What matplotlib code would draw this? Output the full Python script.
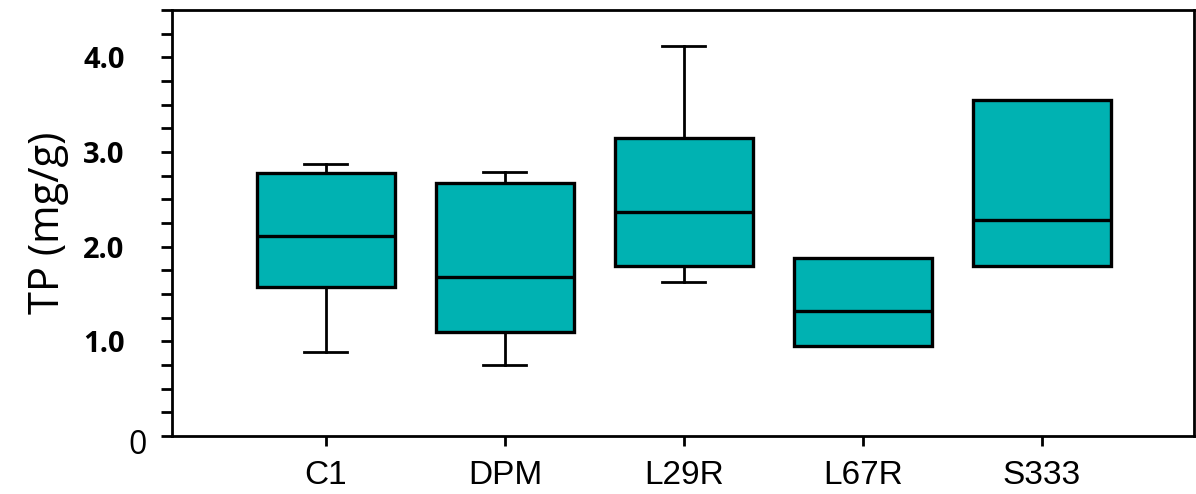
import matplotlib
matplotlib.use("Agg")
import matplotlib.pyplot as plt
import matplotlib.transforms as mtransforms
from matplotlib.ticker import MultipleLocator

# values (TP, mg/g)
groups = ["C1", "DPM", "L29R", "L67R", "S333"]
whisker_low = [0.89, 0.75, 1.63, 0.95, 1.80]
q1 = [1.57, 1.10, 1.80, 0.95, 1.80]
median = [2.11, 1.68, 2.37, 1.32, 2.28]
q3 = [2.78, 2.67, 3.15, 1.88, 3.55]
whisker_high = [2.87, 2.79, 4.12, 1.88, 3.55]

ytick_vals = [0, 1.0, 2.0, 3.0, 4.0]
ytick_labels = ["0", "1.0", "2.0", "3.0", "4.0"]

box_color = "#00B2B2"

stats = []
for i, name in enumerate(groups):
    stats.append({
        "label": name,
        "whislo": whisker_low[i],
        "q1": q1[i],
        "med": median[i],
        "q3": q3[i],
        "whishi": whisker_high[i],
        "fliers": [],
    })

fig = plt.figure(figsize=(11.96, 4.94), dpi=100)
ax = fig.add_axes([0.1438, 0.1174, 0.8545, 0.8624])

positions = list(range(1, len(groups) + 1))
ax.bxp(stats, positions=positions, widths=0.77, patch_artist=True,
       showfliers=False, capwidths=0.24,
       boxprops=dict(facecolor=box_color, edgecolor="black", linewidth=2.4),
       medianprops=dict(color="black", linewidth=2.4),
       whiskerprops=dict(color="black", linewidth=2.0),
       capprops=dict(color="black", linewidth=2.0))

ax.set_xlim(0.14, 5.85)
ax.set_ylim(0, 4.5)

for s in ax.spines.values():
    s.set_linewidth(2.0)

ax.set_xticks(positions)
ax.set_xticklabels(groups, fontsize=24, family="Liberation Sans")
ax.tick_params(axis="x", direction="out", length=7, width=2, pad=10)

ax.set_yticks(ytick_vals)
ax.set_yticklabels(ytick_labels, fontsize=21, family="Open Sans", fontweight="bold")
ax.yaxis.set_minor_locator(MultipleLocator(0.25))
ax.tick_params(axis="y", which="both", direction="out", length=8, width=2, pad=26)

ax.set_ylabel("TP (mg/g)", fontsize=30, family="Open Sans", labelpad=10)

# the "0" label sits closer to the axis, a bit lower, and is not bold
zero = ax.get_yticklabels()[0]
zero.set_fontweight("normal")
zero.set_fontsize(23)
zero.set_transform(zero.get_transform() + mtransforms.ScaledTranslation(22 / 100, -5 / 100, fig.dpi_scale_trans))

fig.savefig("out.png", dpi=100)
